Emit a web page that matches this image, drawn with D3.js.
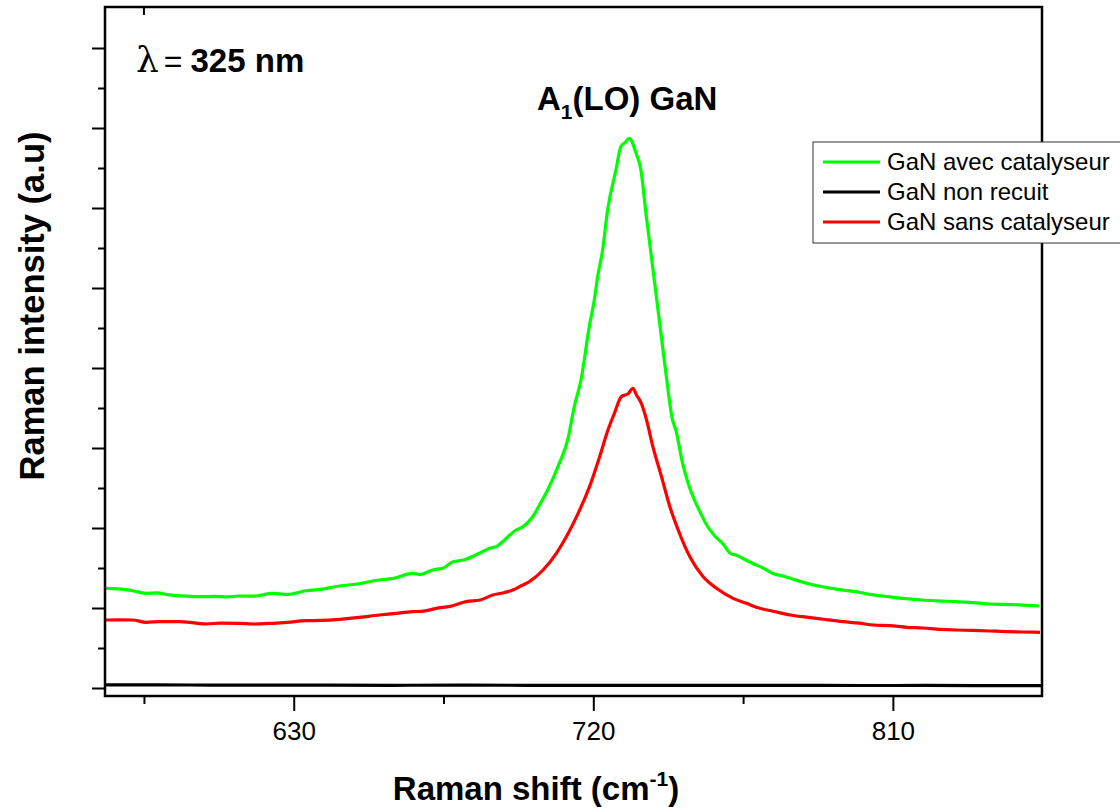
<!DOCTYPE html>
<html>
<head>
<meta charset="utf-8">
<script src="https://cdn.jsdelivr.net/npm/d3@7"></script>
<style>
  html, body { margin: 0; padding: 0; background: #fff; }
  svg { display: block; font-family: "Liberation Sans", Arial, sans-serif; }
</style>
</head>
<body>
<svg id="chart" width="1120" height="809"></svg>
<script>
// ---- data ----
const seriesNames = ["GaN avec catalyseur", "GaN non recuit", "GaN sans catalyseur"];
const seriesColors = ["#00ff00", "#000000", "#ff0000"];

const greenShift = [573.6, 577.5, 581.6, 585.6, 589, 592.6, 597, 601.6, 606, 610, 613.6, 618, 623.6, 628, 633.7, 638, 643.7, 649, 655.7, 660, 665.7, 668, 671.7, 675, 677.8, 681, 685.8, 688.8, 691, 693.3, 696.8, 699, 701.8, 704, 706.3, 709.8, 712.3, 714.3, 716.3, 718.8, 720.3, 721.3, 722.8, 724.3, 726.8, 728.3, 729.6, 730.8, 732.8, 734.3, 735.8, 737.3, 738.8, 740.3, 741.8, 743.8, 744.8, 746.8, 748.8, 750.5, 752.3, 754, 756.3, 759, 761.3, 763, 765.8, 768.8, 771, 773.8, 777, 780.8, 785, 788.8, 793, 798.8, 803, 808.8, 813, 818.8, 823, 828.9, 833, 838.9, 843, 848, 853.9];
const greenInt = [1.246, 1.24, 1.216, 1.184, 1.19, 1.163, 1.15, 1.141, 1.145, 1.138, 1.15, 1.148, 1.184, 1.17, 1.216, 1.232, 1.275, 1.3, 1.35, 1.37, 1.434, 1.42, 1.475, 1.5, 1.579, 1.6, 1.684, 1.746, 1.77, 1.85, 1.975, 2.02, 2.141, 2.3, 2.475, 2.81, 3.1, 3.52, 3.85, 4.52, 4.85, 5.14, 5.475, 5.975, 6.475, 6.77, 6.82, 6.87, 6.69, 6.475, 5.94, 5.44, 4.94, 4.44, 3.94, 3.35, 3.225, 2.81, 2.52, 2.34, 2.18, 2.04, 1.91, 1.8, 1.68, 1.66, 1.6, 1.54, 1.5, 1.434, 1.4, 1.35, 1.3, 1.266, 1.235, 1.204, 1.17, 1.141, 1.12, 1.1, 1.09, 1.079, 1.07, 1.05, 1.045, 1.04, 1.025];

const blackShift = [573.5, 590, 605, 620, 640, 660, 680, 700, 720, 740, 760, 780, 800, 820, 840, 854.5];
const blackInt = [0.04, 0.038, 0.037, 0.036, 0.035, 0.034, 0.036, 0.034, 0.033, 0.034, 0.032, 0.033, 0.031, 0.032, 0.03, 0.03];

const redShift = [573.6, 577.5, 581.6, 585.6, 590, 595.6, 600, 603.7, 608, 613.6, 618, 623.6, 628, 633.7, 638, 643.7, 649, 655.7, 660, 665.7, 669, 672.8, 677, 681.8, 686, 689.8, 693, 695.8, 698, 700.8, 704.9, 708.9, 711.9, 715.4, 718.9, 721.9, 724.4, 726.4, 728.4, 730.5, 731.9, 733, 734.4, 736, 737.9, 740.5, 743, 745.5, 749, 753, 757, 762, 766, 770, 774, 779.1, 784, 789.1, 795, 800, 804.1, 809, 814.1, 819, 824.1, 829, 834, 839.2, 844, 849, 854.2];
const redInt = [0.85, 0.852, 0.85, 0.821, 0.83, 0.829, 0.815, 0.8, 0.812, 0.809, 0.8, 0.809, 0.82, 0.841, 0.845, 0.859, 0.88, 0.9125, 0.93, 0.954, 0.96, 0.996, 1.02, 1.079, 1.1, 1.1625, 1.19, 1.225, 1.27, 1.329, 1.475, 1.684, 1.89, 2.18, 2.52, 2.89, 3.225, 3.44, 3.64, 3.68, 3.746, 3.66, 3.56, 3.35, 3.016, 2.64, 2.266, 1.975, 1.64, 1.39, 1.246, 1.12, 1.059, 0.996, 0.96, 0.9125, 0.885, 0.859, 0.83, 0.81, 0.7875, 0.78, 0.759, 0.75, 0.734, 0.725, 0.72, 0.7125, 0.705, 0.7, 0.696];

const xMajorTicks = [630, 720, 810];
const xMinorTicks = [585, 675, 765];
const yMajorTicks = [0, 1, 2, 3, 4, 5, 6, 7, 8];
const yMinorTicks = [0.5, 1.5, 2.5, 3.5, 4.5, 5.5, 6.5, 7.5];

// ---- layout ----
const svg = d3.select("#chart");
const plot = { left: 105, right: 1042, top: 7, bottom: 696 };

const x = d3.scaleLinear().domain([573.3, 854.8]).range([plot.left, plot.right]);
const y = d3.scaleLinear().domain([-0.1, 8.5125]).range([plot.bottom, plot.top]);

// axes
const xAxisMajor = d3.axisBottom(x).tickValues(xMajorTicks).tickSize(15).tickPadding(11).tickFormat(d3.format("d"));
const xAxisMinor = d3.axisBottom(x).tickValues(xMinorTicks).tickSize(8).tickFormat("");
const yAxisMajor = d3.axisLeft(y).tickValues(yMajorTicks).tickSize(13).tickFormat("");
const yAxisMinor = d3.axisLeft(y).tickValues(yMinorTicks).tickSize(7).tickFormat("");

function styleAxis(g) {
  g.select(".domain").remove();
  g.selectAll(".tick line").attr("stroke", "#000").attr("stroke-width", 2);
  g.selectAll(".tick text").attr("fill", "#000").attr("font-size", 26)
    .attr("font-family", "'Liberation Sans', Arial, sans-serif");
}

svg.append("g").attr("transform", `translate(0,${plot.bottom})`).call(xAxisMajor).call(styleAxis);
svg.append("g").attr("transform", `translate(0,${plot.bottom})`).call(xAxisMinor).call(styleAxis);
svg.append("g").attr("transform", `translate(${plot.left},0)`).call(yAxisMajor).call(styleAxis);
svg.append("g").attr("transform", `translate(${plot.left},0)`).call(yAxisMinor).call(styleAxis);

// small inward tick on top edge
svg.append("line")
  .attr("x1", x(585)).attr("x2", x(585))
  .attr("y1", plot.top).attr("y2", plot.top + 8)
  .attr("stroke", "#000").attr("stroke-width", 2);

// curves
const series = [
  { shift: greenShift, val: greenInt, color: seriesColors[0] },
  { shift: blackShift, val: blackInt, color: seriesColors[1] },
  { shift: redShift, val: redInt, color: seriesColors[2] }
];
const line = d3.line().x(d => x(d[0])).y(d => y(d[1])).curve(d3.curveMonotoneX);
const curves = svg.append("g");
series.forEach(s => {
  const pts = s.shift.map((v, i) => [v, s.val[i]]);
  curves.append("path")
    .attr("d", line(pts))
    .attr("fill", "none")
    .attr("stroke", s.color)
    .attr("stroke-width", 3.2)
    .attr("stroke-linejoin", "round");
});

// frame
svg.append("rect")
  .attr("x", plot.left).attr("y", plot.top)
  .attr("width", plot.right - plot.left).attr("height", plot.bottom - plot.top)
  .attr("fill", "none").attr("stroke", "#000").attr("stroke-width", 2.5);

// axis titles
const xt = svg.append("text")
  .attr("x", 536).attr("y", 800)
  .attr("text-anchor", "middle").attr("font-size", 33).attr("font-weight", "bold").attr("fill", "#000");
xt.append("tspan").text("Raman shift (cm");
xt.append("tspan").attr("font-size", 21).attr("dy", -14).text("-1");
xt.append("tspan").attr("dy", 14).text(")");

svg.append("text")
  .attr("transform", "translate(44,306) rotate(-90)")
  .attr("text-anchor", "middle").attr("font-size", 34.5).attr("font-weight", "bold").attr("fill", "#000")
  .text("Raman intensity (a.u)");

// annotations
const lam = svg.append("text").attr("x", 136).attr("y", 72).attr("fill", "#000");
lam.append("tspan").attr("font-size", 36).attr("font-family", "'DejaVu Serif', serif").text("λ");
lam.append("tspan").attr("font-size", 32).attr("dx", 5).text("=");
lam.append("tspan").attr("font-size", 33).attr("font-weight", "bold").attr("dx", 8).text("325 nm");

const peak = svg.append("text").attr("x", 537).attr("y", 110).attr("fill", "#000")
  .attr("font-size", 33).attr("font-weight", "bold");
peak.append("tspan").text("A");
peak.append("tspan").attr("font-size", 21).attr("dy", 9).text("1");
peak.append("tspan").attr("dy", -9).text("(LO) GaN");

// legend
const legend = svg.append("g");
legend.append("rect")
  .attr("x", 813).attr("y", 142).attr("width", 330).attr("height", 101)
  .attr("fill", "#fff").attr("stroke", "#333").attr("stroke-width", 1);
seriesNames.forEach((name, i) => {
  const ly = 162 + i * 30;
  legend.append("line")
    .attr("x1", 823).attr("x2", 880).attr("y1", ly).attr("y2", ly)
    .attr("stroke", seriesColors[i]).attr("stroke-width", 3);
  legend.append("text")
    .attr("x", 887).attr("y", ly).attr("dy", "0.35em")
    .attr("font-size", 24).attr("fill", "#000").text(name);
});
</script>
</body>
</html>
